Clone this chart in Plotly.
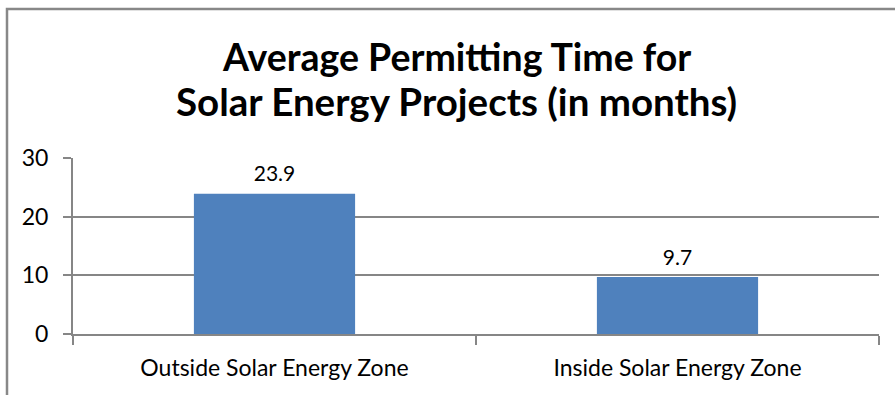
import plotly.graph_objects as go

categories = ["Outside Solar Energy Zone", "Inside Solar Energy Zone"]
values = [23.9, 9.7]
value_labels = ["23.9", "9.7"]
y_ticks = [0, 10, 20, 30]
title_lines = ["Average Permitting Time for", "Solar Energy Projects (in months)"]

FONT = "Lato"
GRID = "#868686"
PLOT_TOP, PLOT_BOTTOM = 158, 334
PH = PLOT_BOTTOM - PLOT_TOP


def py(p):
    return (PLOT_BOTTOM - p) / PH


fig = go.Figure()
fig.add_trace(go.Bar(
    x=categories, y=values,
    marker=dict(color="#4F81BD", line=dict(width=0)),
    width=0.4, hoverinfo="x+y",
))
fig.add_trace(go.Scatter(
    x=categories, y=values, text=value_labels, mode="markers+text",
    textposition="top center",
    marker=dict(size=10, color="rgba(0,0,0,0)", line=dict(width=0)),
    textfont=dict(family=FONT, size=21, color="#000000"),
    cliponaxis=False, hoverinfo="skip",
))

annotations = [
    dict(text="<b>" + title_lines[0] + "</b>", xref="paper", yref="paper",
         x=0.476, y=py(56), xanchor="center", yanchor="middle", showarrow=False,
         font=dict(family=FONT, size=37.5, color="#000000")),
    dict(text="<b>" + title_lines[1] + "</b>", xref="paper", yref="paper",
         x=0.476, y=py(101), xanchor="center", yanchor="middle", showarrow=False,
         font=dict(family=FONT, size=38.5, color="#000000")),
]

fig.update_layout(
    width=895, height=395,
    margin=dict(l=73, r=16, t=PLOT_TOP, b=395 - PLOT_BOTTOM),
    paper_bgcolor="white", plot_bgcolor="white",
    showlegend=False,
    annotations=annotations,
    xaxis=dict(type="category", tickson="boundaries", ticks="outside", ticklen=9,
               tickcolor=GRID, tickwidth=2, showline=True, linecolor=GRID, linewidth=2,
               showgrid=False, tickfont=dict(family=FONT, size=23, color="#000000"),
               ticklabelstandoff=12, range=[-0.5, 1.5]),
    yaxis=dict(range=[0, 30], tickvals=y_ticks, ticks="outside", ticklen=8,
               tickcolor=GRID, tickwidth=2, showline=True, linecolor=GRID, linewidth=2,
               gridcolor=GRID, gridwidth=2, zeroline=False, ticklabelstandoff=10,
               tickfont=dict(family=FONT, size=23, color="#000000")),
    shapes=[dict(type="rect", xref="paper", yref="paper", x0=-66 / 806, x1=1.2,
                 y0=-0.5, y1=py(9), line=dict(color="#888888", width=2.5),
                 fillcolor="rgba(0,0,0,0)", layer="below")],
)

fig.write_html("out.html")
